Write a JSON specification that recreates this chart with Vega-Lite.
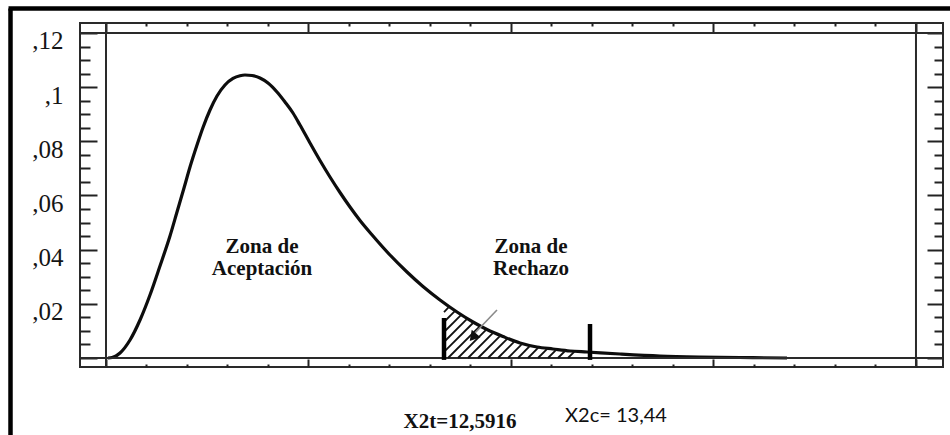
{
  "$schema": "https://vega.github.io/schema/vega-lite/v6.json",
  "width": 863,
  "height": 344,
  "autosize": "none",
  "padding": {"left": 80, "top": 23, "right": 7, "bottom": 68},
  "background": "white",
  "config": {"view": {"stroke": "#2a2a2a", "strokeWidth": 2}},
  "datasets": {
    "curve": [
      {"x": 0.049, "y": 0}, {"x": 0.148, "y": 0.00018}, {"x": 0.247, "y": 0.00074}, {"x": 0.346, "y": 0.00185},
      {"x": 0.593, "y": 0.00665}, {"x": 0.84, "y": 0.01403}, {"x": 1.086, "y": 0.02326}, {"x": 1.333, "y": 0.03397},
      {"x": 1.58, "y": 0.04505}, {"x": 1.753, "y": 0.05391}, {"x": 1.926, "y": 0.06277}, {"x": 2.074, "y": 0.07052},
      {"x": 2.247, "y": 0.07865}, {"x": 2.395, "y": 0.08511}, {"x": 2.568, "y": 0.09157}, {"x": 2.741, "y": 0.09674},
      {"x": 2.938, "y": 0.1008}, {"x": 3.136, "y": 0.1032}, {"x": 3.309, "y": 0.10423}, {"x": 3.432, "y": 0.10449},
      {"x": 3.605, "y": 0.10431}, {"x": 3.802, "y": 0.10339}, {"x": 4.0, "y": 0.10154}, {"x": 4.222, "y": 0.09822},
      {"x": 4.42, "y": 0.09452}, {"x": 4.617, "y": 0.09046}, {"x": 4.79, "y": 0.08603}, {"x": 5.037, "y": 0.07939},
      {"x": 5.284, "y": 0.07292}, {"x": 5.531, "y": 0.06683}, {"x": 5.778, "y": 0.06111}, {"x": 6.025, "y": 0.05575},
      {"x": 6.272, "y": 0.05077}, {"x": 6.593, "y": 0.04505}, {"x": 7.012, "y": 0.03803}, {"x": 7.432, "y": 0.03175},
      {"x": 7.827, "y": 0.0264}, {"x": 8.247, "y": 0.02142}, {"x": 8.667, "y": 0.01698}, {"x": 9.062, "y": 0.01329},
      {"x": 9.407, "y": 0.01052}, {"x": 9.802, "y": 0.00794}, {"x": 10.222, "y": 0.00554}, {"x": 10.642, "y": 0.00406},
      {"x": 11.037, "y": 0.00332}, {"x": 11.457, "y": 0.00258}, {"x": 11.877, "y": 0.00222}, {"x": 12.691, "y": 0.00148},
      {"x": 13.679, "y": 0.00074}, {"x": 14.667, "y": 0.00037}, {"x": 15.654, "y": 0.00018}, {"x": 16.815, "y": 0}
    ],
    "frameV": [{"x": 0}, {"x": 20}],
    "frameH": [{"y": 0}, {"y": 0.12}],
    "hatch": [
      {"x": 8.346, "y": 0.01698, "x2": 8.457, "y2": 0.01865},
      {"x": 8.346, "y": 0.01329, "x2": 8.607, "y2": 0.01721},
      {"x": 8.346, "y": 0.0096, "x2": 8.758, "y2": 0.01577},
      {"x": 8.346, "y": 0.00591, "x2": 8.909, "y2": 0.01433},
      {"x": 8.346, "y": 0.00222, "x2": 9.062, "y2": 0.01292},
      {"x": 8.444, "y": 0, "x2": 9.227, "y2": 0.0117},
      {"x": 8.691, "y": 0, "x2": 9.39, "y2": 0.01045},
      {"x": 8.938, "y": 0, "x2": 9.563, "y2": 0.00934},
      {"x": 9.185, "y": 0, "x2": 9.733, "y2": 0.0082},
      {"x": 9.432, "y": 0, "x2": 9.911, "y2": 0.00716},
      {"x": 9.679, "y": 0, "x2": 10.094, "y2": 0.0062},
      {"x": 9.926, "y": 0, "x2": 10.281, "y2": 0.00532},
      {"x": 10.173, "y": 0, "x2": 10.481, "y2": 0.00462},
      {"x": 10.42, "y": 0, "x2": 10.686, "y2": 0.00399},
      {"x": 10.667, "y": 0, "x2": 10.906, "y2": 0.00358},
      {"x": 10.914, "y": 0, "x2": 11.126, "y2": 0.00318},
      {"x": 11.16, "y": 0, "x2": 11.346, "y2": 0.00277},
      {"x": 11.407, "y": 0, "x2": 11.573, "y2": 0.00247}
    ],
    "bars": [
      {"x": 8.346, "y": -0.0007, "y2": 0.01477},
      {"x": 11.951, "y": -0.0007, "y2": 0.01255}
    ],
    "arrowLine": [{"x": 9.654, "y": 0.01772, "x2": 9.086, "y2": 0.00886}],
    "arrowHead": [{"x": 9.086, "y": 0.00812}],
    "border": [
      {"x": -2.358, "y": -0.02843, "x2": -2.358, "y2": 0.12906},
      {"x": -2.407, "y": 0.12906, "x2": 20.84, "y2": 0.12906}
    ],
    "serifText": [
      {"x": 3.852, "y": 0.03877, "label": "Zona de\nAceptación"},
      {"x": 10.494, "y": 0.03877, "label": "Zona de\nRechazo"},
      {"x": 8.741, "y": -0.02585, "label": "X2t=12,5916"}
    ],
    "sansText": [
      {"x": 12.593, "y": -0.02363, "label": "X2c= 13,44"}
    ]
  },
  "resolve": {"axis": {"x": "independent", "y": "independent"}},
  "layer": [
    {
      "data": {"name": "curve"},
      "mark": {"type": "line", "color": "#0d0d0d", "strokeWidth": 3.2, "interpolate": "monotone"},
      "encoding": {
        "x": {"field": "x", "type": "quantitative", "scale": {"domain": [-0.642, 20.667], "nice": false, "zero": false},
          "axis": {"orient": "bottom", "values": [0,1,2,3,4,5,6,7,8,9,10,11,12,13,14,15,16,17,18,19,20], "labels": false, "domain": false, "grid": false, "title": null,
            "tickColor": "#222", "tickWidth": 2,
            "tickSize": {"condition": {"test": "datum.value % 5 == 0", "value": -8}, "value": -3}}},
        "y": {"field": "y", "type": "quantitative", "scale": {"domain": [-0.003323, 0.12369], "nice": false, "zero": false},
          "axis": {"orient": "left", "values": [0,0.005,0.01,0.015,0.02,0.025,0.03,0.035,0.04,0.045,0.05,0.055,0.06,0.065,0.07,0.075,0.08,0.085,0.09,0.095,0.1,0.105,0.11,0.115,0.12],
            "domain": false, "grid": false, "title": null, "tickColor": "#222", "tickWidth": 2,
            "tickSize": {"condition": {"test": "abs(datum.value*50 - round(datum.value*50)) < 0.01", "value": -17}, "value": -10},
            "labelExpr": "abs(datum.value*50 - round(datum.value*50)) < 0.01 && datum.value > 0 ? replace(format(datum.value, '.2~f'), '0.', ',') : ''",
            "labelFont": "Liberation Serif", "labelFontSize": 25, "labelColor": "#151515", "labelBaseline": "top", "labelOffset": -4,
            "labelPadding": 34, "labelOverlap": false, "labelBound": false, "labelFlush": false}}
      }
    },
    {
      "data": {"name": "frameV"},
      "mark": {"type": "rule", "color": "#2a2a2a", "strokeWidth": 2},
      "encoding": {
        "x": {"field": "x", "type": "quantitative", "scale": {"domain": [-0.642, 20.667], "nice": false, "zero": false},
          "axis": {"orient": "top", "values": [0,1,2,3,4,5,6,7,8,9,10,11,12,13,14,15,16,17,18,19,20], "labels": false, "domain": false, "grid": false, "title": null,
            "tickColor": "#222", "tickWidth": 2,
            "tickSize": {"condition": {"test": "datum.value % 5 == 0", "value": -10}, "value": -3}}}
      }
    },
    {
      "data": {"name": "frameH"},
      "mark": {"type": "rule", "color": "#2a2a2a", "strokeWidth": 2},
      "encoding": {
        "y": {"field": "y", "type": "quantitative", "scale": {"domain": [-0.003323, 0.12369], "nice": false, "zero": false},
          "axis": {"orient": "right", "values": [0,0.005,0.01,0.015,0.02,0.025,0.03,0.035,0.04,0.045,0.05,0.055,0.06,0.065,0.07,0.075,0.08,0.085,0.09,0.095,0.1,0.105,0.11,0.115,0.12],
            "labels": false, "domain": false, "grid": false, "title": null, "tickColor": "#222", "tickWidth": 2,
            "tickSize": {"condition": {"test": "abs(datum.value*50 - round(datum.value*50)) < 0.01", "value": -16}, "value": -9}}}
      }
    },
    {
      "data": {"name": "hatch"},
      "mark": {"type": "rule", "color": "#111", "strokeWidth": 1.8},
      "encoding": {
        "x": {"field": "x", "type": "quantitative", "scale": {"domain": [-0.642, 20.667], "nice": false, "zero": false}, "axis": null},
        "y": {"field": "y", "type": "quantitative", "scale": {"domain": [-0.003323, 0.12369], "nice": false, "zero": false}, "axis": null},
        "x2": {"field": "x2"},
        "y2": {"field": "y2"}
      }
    },
    {
      "data": {"name": "bars"},
      "mark": {"type": "rule", "color": "#000", "strokeWidth": 4.5},
      "encoding": {
        "x": {"field": "x", "type": "quantitative", "scale": {"domain": [-0.642, 20.667], "nice": false, "zero": false}, "axis": null},
        "y": {"field": "y", "type": "quantitative", "scale": {"domain": [-0.003323, 0.12369], "nice": false, "zero": false}, "axis": null},
        "y2": {"field": "y2"}
      }
    },
    {
      "data": {"name": "arrowLine"},
      "mark": {"type": "rule", "color": "#8a8a8a", "strokeWidth": 1.6},
      "encoding": {
        "x": {"field": "x", "type": "quantitative", "scale": {"domain": [-0.642, 20.667], "nice": false, "zero": false}, "axis": null},
        "y": {"field": "y", "type": "quantitative", "scale": {"domain": [-0.003323, 0.12369], "nice": false, "zero": false}, "axis": null},
        "x2": {"field": "x2"},
        "y2": {"field": "y2"}
      }
    },
    {
      "data": {"name": "arrowHead"},
      "mark": {"type": "point", "shape": "triangle", "filled": true, "color": "#111", "size": 130, "angle": 220, "opacity": 1},
      "encoding": {
        "x": {"field": "x", "type": "quantitative", "scale": {"domain": [-0.642, 20.667], "nice": false, "zero": false}, "axis": null},
        "y": {"field": "y", "type": "quantitative", "scale": {"domain": [-0.003323, 0.12369], "nice": false, "zero": false}, "axis": null}
      }
    },
    {
      "data": {"name": "border"},
      "mark": {"type": "rule", "color": "#000", "strokeWidth": 4.5},
      "encoding": {
        "x": {"field": "x", "type": "quantitative", "scale": {"domain": [-0.642, 20.667], "nice": false, "zero": false}, "axis": null},
        "y": {"field": "y", "type": "quantitative", "scale": {"domain": [-0.003323, 0.12369], "nice": false, "zero": false}, "axis": null},
        "x2": {"field": "x2"},
        "y2": {"field": "y2"}
      }
    },
    {
      "data": {"name": "serifText"},
      "mark": {"type": "text", "font": "Liberation Serif", "fontWeight": "bold", "fontSize": 21, "color": "#111", "align": "center", "baseline": "alphabetic", "lineBreak": "\n", "lineHeight": 22},
      "encoding": {
        "x": {"field": "x", "type": "quantitative", "scale": {"domain": [-0.642, 20.667], "nice": false, "zero": false}, "axis": null},
        "y": {"field": "y", "type": "quantitative", "scale": {"domain": [-0.003323, 0.12369], "nice": false, "zero": false}, "axis": null},
        "text": {"field": "label"}
      }
    },
    {
      "data": {"name": "sansText"},
      "mark": {"type": "text", "font": "Lato", "fontSize": 20, "color": "#111", "align": "center", "baseline": "alphabetic"},
      "encoding": {
        "x": {"field": "x", "type": "quantitative", "scale": {"domain": [-0.642, 20.667], "nice": false, "zero": false}, "axis": null},
        "y": {"field": "y", "type": "quantitative", "scale": {"domain": [-0.003323, 0.12369], "nice": false, "zero": false}, "axis": null},
        "text": {"field": "label"}
      }
    }
  ]
}
